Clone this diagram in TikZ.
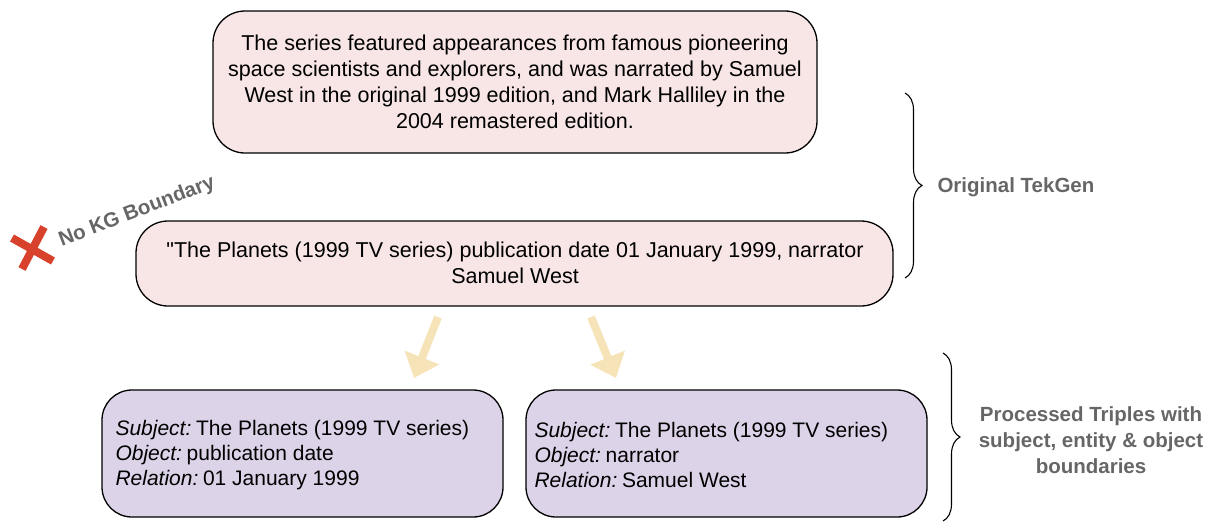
\documentclass[tikz,border=0pt]{standalone}
\usepackage{fontspec}
\setmainfont{Liberation Sans}
\usetikzlibrary{arrows.meta,decorations.pathreplacing}
\definecolor{pinkfill}{HTML}{F8E6E7}
\definecolor{lavfill}{HTML}{DCD3E8}
\definecolor{arrowcol}{HTML}{F6E4B8}
\definecolor{crossred}{HTML}{D8412C}
\definecolor{labgray}{HTML}{666666}
\newcommand{\straightquote}{\XeTeXglyph\XeTeXglyphindex "quotedbl"\relax}
\tikzset{
  pinkbox/.style={draw=black, line width=1.3pt, fill=pinkfill, rounded corners=32pt},
  lavbox/.style={draw=black, line width=1.3pt, fill=lavfill, rounded corners=30pt},
  bodytext/.style={font=\fontsize{21.5}{25.8}\selectfont, align=center},
  tripletext/.style={font=\fontsize{21}{25.3}\selectfont, align=left, anchor=west},
  sidelabel/.style={font=\fontsize{20.5}{26.3}\selectfont\bfseries, text=labgray, align=center},
  fatarrow/.style={draw=arrowcol, line width=8pt, -{Triangle[width=36pt,length=22pt]}},
  bracestyle/.style={draw=black, line width=1.1pt, decorate, decoration={brace, amplitude=17pt}},
  crossline/.style={draw=crossred, line width=8pt}
}
\begin{document}
\begin{tikzpicture}[x=1pt,y=-1pt]
\useasboundingbox (0,0) rectangle (1217,523);
% boxes
\draw[pinkbox] (213,11) rectangle (817,153);
\node[bodytext] (top) at (515,82) {The series featured appearances from famous pioneering\\space scientists and explorers, and was narrated by Samuel\\West in the original 1999 edition, and Mark Halliley in the\\2004 remastered edition.};
\draw[pinkbox] (136,221) rectangle (893,306);
\node[bodytext] (mid) at (515,263) {\straightquote The Planets (1999 TV series) publication date 01 January 1999, narrator\\Samuel West};
\draw[lavbox] (102,390) rectangle (503,517);
\node[tripletext] (tl) at (112,455) {{\itshape Subject:}\hspace{0.22em}The Planets (1999 TV series)\\{\itshape Object:}\hspace{0.22em}publication date\\{\itshape Relation:}\hspace{0.22em}01 January 1999};
\draw[lavbox] (526,390) rectangle (927,517);
\node[tripletext] (tr) at (531,455) {{\itshape Subject:}\hspace{0.22em}The Planets (1999 TV series)\\{\itshape Object:}\hspace{0.22em}narrator\\{\itshape Relation:}\hspace{0.22em}Samuel West};
% arrows
\coordinate (a1s) at (438,317);
\coordinate (a1e) at (414,378);
\coordinate (a2s) at (591,317);
\coordinate (a2e) at (616,378);
\draw[fatarrow] (a1s) -- (a1e);
\draw[fatarrow] (a2s) -- (a2e);
% braces
\draw[bracestyle] (905,93) -- (905,278);
\node[sidelabel, anchor=west] (orig) at (934,187) {Original TekGen};
\draw[bracestyle] (943,353) -- (943,521);
\node[sidelabel] (proc) at (1091,440) {Processed Triples with\\subject, entity \& object\\boundaries};
% no KG boundary
\draw[crossline] (12,238) -- (53,261);
\draw[crossline] (44,227) -- (22,269);
\node[sidelabel, rotate=21, inner sep=1pt] (nokg) at (137,212) {No KG Boundary};
\end{tikzpicture}
\end{document}
